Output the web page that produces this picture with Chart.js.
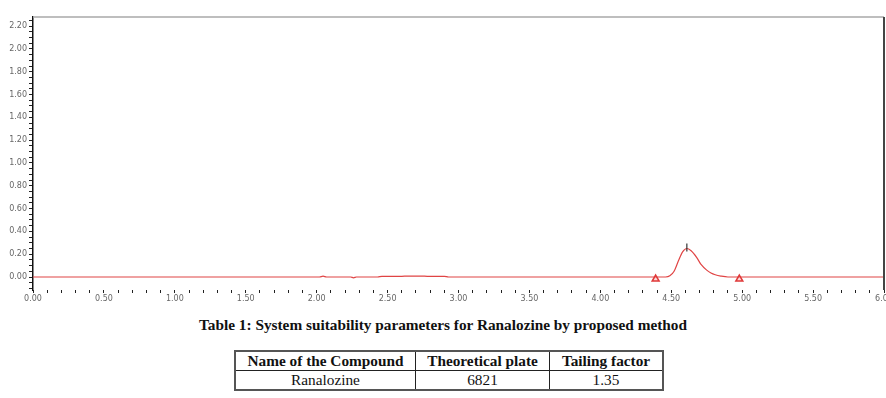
<!DOCTYPE html>
<html>
<head>
<meta charset="utf-8">
<script src="https://cdn.jsdelivr.net/npm/chart.js@4.4.1/dist/chart.umd.min.js"></script>
<style>
  html, body { margin: 0; padding: 0; background: #fff; overflow: hidden; }
  #wrap { position: relative; width: 900px; height: 305px; }
  .cap { font-family: "Liberation Serif", serif; font-weight: bold; font-size: 15.3px;
         text-align: center; width: 886px; margin-top: 11px; color: #111; }
  table { border-collapse: collapse; margin: 16px 0 0 234px; font-family: "Liberation Serif", serif;
          font-size: 15.3px; color: #111; border: 2px solid #555; }
  td, th { border: 1px solid #222; padding: 0; height: 18px; line-height: 18px; text-align: center; }
  th { font-weight: bold; }
</style>
</head>
<body>
<div id="wrap"><canvas id="chrom"></canvas></div>
<div class="cap">Table 1: System suitability parameters for Ranalozine by proposed method</div>
<table>
  <tr><th style="width:179px">Name of the Compound</th><th style="width:133px">Theoretical plate</th><th style="width:112px">Tailing factor</th></tr>
  <tr><td>Ranalozine</td><td>6821</td><td>1.35</td></tr>
</table>
<script>
// retention time (min) and detector response
var times   = [0, 2.02, 2.045, 2.07, 2.24, 2.26, 2.28, 2.43, 2.46, 2.60, 2.64, 2.74, 2.78, 2.90, 2.93,
               4.46, 4.49, 4.52, 4.55, 4.58, 4.61, 4.64, 4.68, 4.71, 4.75, 4.78, 4.81, 4.85, 4.90, 6.0];
var signal  = [0, 0, 0.007, 0, 0, -0.007, 0, 0, 0.006, 0.006, 0.008, 0.008, 0.006, 0.006, 0,
               0, 0.01, 0.05, 0.14, 0.22, 0.25, 0.23, 0.17, 0.11, 0.06, 0.035, 0.02, 0.008, 0, 0];
// baseline start/end markers
var markTimes = [4.39, 4.98];
var markVals  = [-0.018, -0.018];
// apex marker
var apexTimes = [4.61];
var apexVals  = [0.258];

var xMin = 0, xMax = 6.0;
var yMin = -0.114, yMax = 2.28;

function pts(xs, ys){
  var out = [];
  for (var i = 0; i < xs.length; i++) out.push({x: xs[i], y: ys[i]});
  return out;
}

var frame = {
  id: 'frame',
  afterDraw: function(chart){
    var a = chart.chartArea, ctx = chart.ctx;
    ctx.save();
    ctx.strokeStyle = '#a8a8a8'; ctx.lineWidth = 1.5;
    ctx.beginPath(); ctx.moveTo(a.left, a.top); ctx.lineTo(a.right, a.top); ctx.stroke();
    ctx.strokeStyle = '#444'; ctx.lineWidth = 2;
    ctx.beginPath(); ctx.moveTo(a.right, a.top); ctx.lineTo(a.right, a.bottom); ctx.stroke();
    ctx.restore();
  }
};

new Chart(document.getElementById('chrom'), {
  type: 'line',
  data: {
    datasets: [
      { data: pts(markTimes, markVals), showLine: false, pointStyle: 'triangle', pointRadius: 4,
        borderColor: '#e03838', backgroundColor: 'rgba(240,150,150,0.35)', pointBorderWidth: 1.5 },
      { data: pts(apexTimes, apexVals), showLine: false, pointStyle: 'line', rotation: 90, pointRadius: 4,
        borderColor: '#333', pointBorderWidth: 1.2 },
      { data: pts(times, signal), borderColor: '#e04444', borderWidth: 1.2, pointRadius: 0,
        cubicInterpolationMode: 'monotone', fill: false }
    ]
  },
  options: {
    responsive: true, maintainAspectRatio: false, animation: false,
    layout: { padding: { top: 17, right: 16, left: 0, bottom: 0 } },
    plugins: { legend: { display: false }, tooltip: { enabled: false } },
    scales: {
      x: {
        type: 'linear', min: xMin, max: xMax,
        afterBuildTicks: function(s){
          var t = [];
          for (var i = 0; i <= 60; i++) t.push({value: i / 10});
          s.ticks = t;
        },
        afterFit: function(s){ s.height = 15; },
        grid: { drawOnChartArea: false, drawTicks: true, tickLength: 3, tickColor: '#222', tickWidth: 1 },
        border: { display: false },
        ticks: {
          autoSkip: false, maxRotation: 0, padding: 1, color: '#666',
          font: { family: 'DejaVu Sans', size: 8 },
          callback: function(v){ return Math.round(v * 10) % 5 === 0 ? v.toFixed(2) : ''; }
        }
      },
      y: {
        min: yMin, max: yMax,
        afterBuildTicks: function(s){
          var t = [];
          for (var i = -2; i <= 45; i++) t.push({value: i / 20});
          s.ticks = t;
        },
        afterFit: function(s){ s.width = 33; },
        grid: { drawOnChartArea: false, drawTicks: true, tickLength: 4, tickColor: '#222', tickWidth: 1 },
        border: { display: true, color: '#111', width: 1.5 },
        ticks: {
          autoSkip: false, padding: 2, color: '#666',
          font: { family: 'DejaVu Sans', size: 8 },
          callback: function(v){
            var k = Math.round(v * 20);
            return (k >= 0 && k % 4 === 0) ? (k / 20).toFixed(2) : '';
          }
        }
      }
    }
  },
  plugins: [frame]
});
</script>
</body>
</html>
